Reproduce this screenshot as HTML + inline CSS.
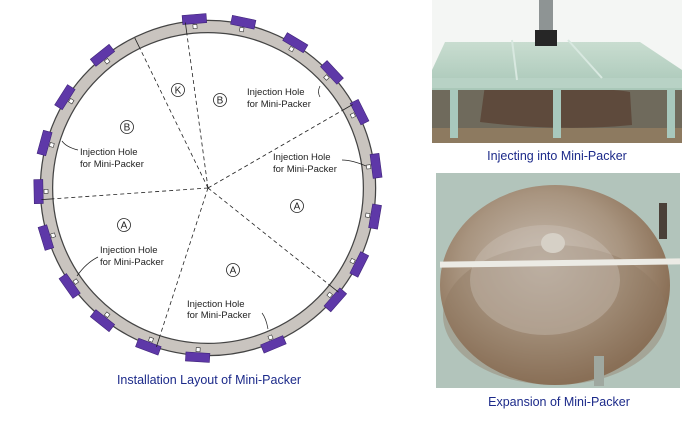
<!DOCTYPE html>
<html><head><meta charset="utf-8"><style>
html,body{margin:0;padding:0;background:#fff;width:690px;height:425px;overflow:hidden}
svg{display:block}
text{font-family:"Liberation Sans",Arial,sans-serif}
</style></head><body>
<svg width="690" height="425" viewBox="0 0 690 425" xmlns="http://www.w3.org/2000/svg">
<defs>
<radialGradient id="mud" cx="0.45" cy="0.4" r="0.6">
<stop offset="0" stop-color="#c8bdb2"/><stop offset="0.6" stop-color="#a8947f"/><stop offset="1" stop-color="#85694f"/>
</radialGradient>
<linearGradient id="plate" x1="0" y1="0" x2="0" y2="1">
<stop offset="0" stop-color="#c9ddd0"/><stop offset="1" stop-color="#a9c7b8"/>
</linearGradient>
</defs>

<circle cx="208" cy="188" r="161.5" fill="none" stroke="#444" stroke-width="13.5"/>
<circle cx="208" cy="188" r="161.5" fill="none" stroke="#c9c4bf" stroke-width="11"/>

<g fill="#5e38a8" stroke="#40247a" stroke-width="0.6">
<rect x="196" y="14" width="24" height="9" transform="rotate(-4.6 208 188)"/>
<rect x="196" y="14" width="24" height="9" transform="rotate(12 208 188)"/>
<rect x="196" y="14" width="24" height="9" transform="rotate(31 208 188)"/>
<rect x="196" y="14" width="24" height="9" transform="rotate(47 208 188)"/>
<rect x="196" y="14" width="24" height="9" transform="rotate(63.4 208 188)"/>
<rect x="196" y="14" width="24" height="9" transform="rotate(82.5 208 188)"/>
<rect x="196" y="14" width="24" height="9" transform="rotate(99.7 208 188)"/>
<rect x="196" y="14" width="24" height="9" transform="rotate(116.8 208 188)"/>
<rect x="196" y="14" width="24" height="9" transform="rotate(131.3 208 188)"/>
<rect x="196" y="14" width="24" height="9" transform="rotate(157.3 208 188)"/>
<rect x="196" y="14" width="24" height="9" transform="rotate(183.5 208 188)"/>
<rect x="196" y="14" width="24" height="9" transform="rotate(200.6 208 188)"/>
<rect x="196" y="14" width="24" height="9" transform="rotate(218.5 208 188)"/>
<rect x="196" y="14" width="24" height="9" transform="rotate(234.7 208 188)"/>
<rect x="196" y="14" width="24" height="9" transform="rotate(253 208 188)"/>
<rect x="196" y="14" width="24" height="9" transform="rotate(268.8 208 188)"/>
<rect x="196" y="14" width="24" height="9" transform="rotate(285.4 208 188)"/>
<rect x="196" y="14" width="24" height="9" transform="rotate(302.4 208 188)"/>
<rect x="196" y="14" width="24" height="9" transform="rotate(321.5 208 188)"/>
</g>
<g fill="#fff" stroke="#333" stroke-width="0.6">
<rect x="206" y="24" width="4" height="4" transform="rotate(-4.6 208 188)"/>
<rect x="206" y="24" width="4" height="4" transform="rotate(12 208 188)"/>
<rect x="206" y="24" width="4" height="4" transform="rotate(31 208 188)"/>
<rect x="206" y="24" width="4" height="4" transform="rotate(47 208 188)"/>
<rect x="206" y="24" width="4" height="4" transform="rotate(63.4 208 188)"/>
<rect x="206" y="24" width="4" height="4" transform="rotate(82.5 208 188)"/>
<rect x="206" y="24" width="4" height="4" transform="rotate(99.7 208 188)"/>
<rect x="206" y="24" width="4" height="4" transform="rotate(116.8 208 188)"/>
<rect x="206" y="24" width="4" height="4" transform="rotate(131.3 208 188)"/>
<rect x="206" y="24" width="4" height="4" transform="rotate(157.3 208 188)"/>
<rect x="206" y="24" width="4" height="4" transform="rotate(183.5 208 188)"/>
<rect x="206" y="24" width="4" height="4" transform="rotate(200.6 208 188)"/>
<rect x="206" y="24" width="4" height="4" transform="rotate(218.5 208 188)"/>
<rect x="206" y="24" width="4" height="4" transform="rotate(234.7 208 188)"/>
<rect x="206" y="24" width="4" height="4" transform="rotate(253 208 188)"/>
<rect x="206" y="24" width="4" height="4" transform="rotate(268.8 208 188)"/>
<rect x="206" y="24" width="4" height="4" transform="rotate(285.4 208 188)"/>
<rect x="206" y="24" width="4" height="4" transform="rotate(302.4 208 188)"/>
<rect x="206" y="24" width="4" height="4" transform="rotate(321.5 208 188)"/>
</g>

<g stroke="#222" stroke-width="0.8">
<g transform="rotate(-7.8 208 188)"><line x1="208" y1="188" x2="208" y2="33" stroke-dasharray="4,3"/><line x1="208" y1="33" x2="208" y2="21"/></g>
<g transform="rotate(-26 208 188)"><line x1="208" y1="188" x2="208" y2="33" stroke-dasharray="4,3"/><line x1="208" y1="33" x2="208" y2="21"/></g>
<g transform="rotate(60 208 188)"><line x1="208" y1="188" x2="208" y2="33" stroke-dasharray="4,3"/><line x1="208" y1="33" x2="208" y2="21"/></g>
<g transform="rotate(266 208 188)"><line x1="208" y1="188" x2="208" y2="33" stroke-dasharray="4,3"/><line x1="208" y1="33" x2="208" y2="21"/></g>
<g transform="rotate(128.6 208 188)"><line x1="208" y1="188" x2="208" y2="33" stroke-dasharray="4,3"/><line x1="208" y1="33" x2="208" y2="21"/></g>
<g transform="rotate(198 208 188)"><line x1="208" y1="188" x2="208" y2="33" stroke-dasharray="4,3"/><line x1="208" y1="33" x2="208" y2="21"/></g>
</g>

<g fill="none" stroke="#222" stroke-width="0.8">
<circle cx="127" cy="127" r="6.5"/><circle cx="178" cy="90" r="6.5"/><circle cx="220" cy="100" r="6.5"/>
<circle cx="297" cy="206" r="6.5"/><circle cx="124" cy="225" r="6.5"/><circle cx="233" cy="270" r="6.5"/>
</g>
<g font-size="10" fill="#222" text-anchor="middle">
<text x="127" y="130.5">B</text><text x="178" y="93.5">K</text><text x="220" y="103.5">B</text>
<text x="297" y="209.5">A</text><text x="124" y="228.5">A</text><text x="233" y="273.5">A</text>
</g>

<g font-size="9.5" fill="#222">
<text x="80" y="155">Injection Hole</text><text x="80" y="167">for Mini-Packer</text>
<text x="247" y="95">Injection Hole</text><text x="247" y="107">for Mini-Packer</text>
<text x="273" y="160">Injection Hole</text><text x="273" y="172">for Mini-Packer</text>
<text x="100" y="253">Injection Hole</text><text x="100" y="265">for Mini-Packer</text>
<text x="187" y="307">Injection Hole</text><text x="187" y="318">for Mini-Packer</text>
</g>
<g fill="none" stroke="#222" stroke-width="0.7">
<path d="M78 150 Q66 147 62 141"/>
<path d="M320 86 Q317 92 320 97"/>
<path d="M342 160 Q352 160 366 166"/>
<path d="M98 257 Q86 263 77 276"/>
<path d="M262 313 Q266 318 268 329"/>
</g>

<text x="209" y="384" font-size="12.5" fill="#1c2a8a" text-anchor="middle">Installation Layout of Mini-Packer</text>

<rect x="432" y="0" width="250" height="143" fill="#f4f6f4"/>
<rect x="432" y="85" width="250" height="58" fill="#6f6a5c"/>
<path d="M485 85 Q520 86 560 90 Q610 88 630 92 L632 125 Q560 132 480 122 Z" fill="#5e4a3c"/>
<rect x="432" y="128" width="250" height="15" fill="#8d7a60"/>
<polygon points="445,42 640,42 682,70 682,90 432,90 432,70" fill="url(#plate)"/>
<rect x="432" y="78" width="250" height="10" fill="#b8d2c5"/>
<rect x="450" y="90" width="8" height="48" fill="#a8c8bd"/>
<rect x="553" y="90" width="8" height="48" fill="#a8c8bd"/>
<rect x="667" y="90" width="8" height="48" fill="#a8c8bd"/>
<rect x="539" y="0" width="14" height="30" fill="#8e9494"/>
<rect x="535" y="30" width="22" height="16" fill="#262626"/>
<line x1="512" y1="40" x2="517" y2="80" stroke="#d8e8e0" stroke-width="2"/>
<line x1="568" y1="40" x2="602" y2="78" stroke="#d8e8e0" stroke-width="2"/>
<text x="557" y="160" font-size="12.5" fill="#1c2a8a" text-anchor="middle">Injecting into Mini-Packer</text>

<rect x="436" y="173" width="244" height="215" fill="#b2c4bb"/>
<ellipse cx="555" cy="285" rx="115" ry="100" fill="url(#mud)"/>
<ellipse cx="555" cy="315" rx="112" ry="70" fill="#8f7862" opacity="0.4"/>
<ellipse cx="545" cy="280" rx="75" ry="55" fill="#d0c8c0" opacity="0.35"/>
<rect x="440" y="260" width="240" height="6" fill="#ecebe5" transform="rotate(-0.8 560 263)"/>
<ellipse cx="553" cy="243" rx="12" ry="10" fill="#d6d0c6"/>
<rect x="659" y="203" width="8" height="36" fill="#4a4038"/>
<rect x="594" y="356" width="10" height="30" fill="#9fa8a0"/>
<text x="559" y="406" font-size="12.5" fill="#1c2a8a" text-anchor="middle">Expansion of Mini-Packer</text>
</svg>
</body></html>
